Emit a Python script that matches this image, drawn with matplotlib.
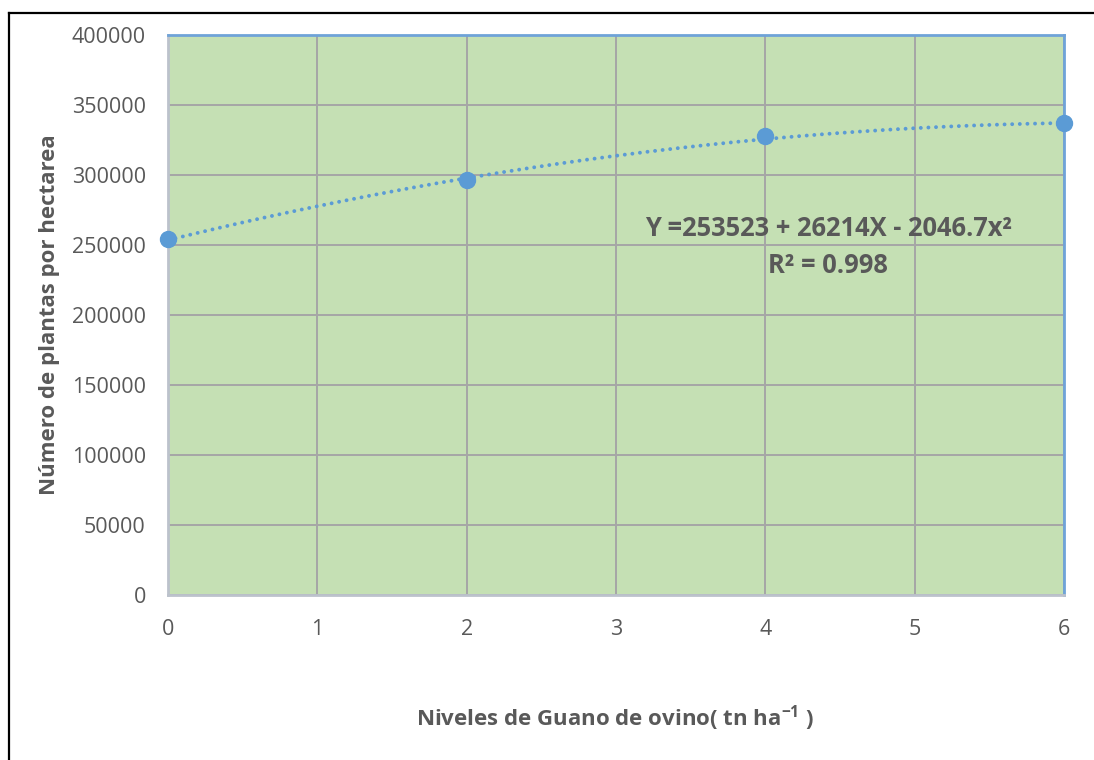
import numpy as np
import matplotlib
matplotlib.use("Agg")
import matplotlib.pyplot as plt
from matplotlib.lines import Line2D

plt.rcParams["font.family"] = ["Open Sans", "DejaVu Sans"]
plt.rcParams["mathtext.fontset"] = "custom"
plt.rcParams["mathtext.rm"] = "Open Sans"
plt.rcParams["mathtext.bf"] = "Open Sans:bold"
plt.rcParams["mathtext.default"] = "bf"

# Data
niveles = [0, 2, 4, 6]
plantas = [254000, 296500, 327500, 336800]
# quadratic trend: Y = a + b*X + c*X^2
coef_a, coef_b, coef_c = 253523, 26214, -2046.7
r2 = 0.998
y_ticks = [0, 50000, 100000, 150000, 200000, 250000, 300000, 350000, 400000]
x_ticks = [0, 1, 2, 3, 4, 5, 6]

txt = "#595959"
blue = "#5B9BD5"

fig = plt.figure(figsize=(10.94, 7.6), dpi=100)
ax = fig.add_axes([168 / 1094, 165 / 760, 896 / 1094, 560 / 760])
ax.set_facecolor("#C5E0B4")

xs = np.linspace(0, 6, 300)
ax.plot(xs, coef_a + coef_b * xs + coef_c * xs ** 2, color=blue, lw=2.8,
        linestyle=(0, (0.01, 1.95)), dash_capstyle="round", zorder=3)
ax.plot(niveles, plantas, "o", color=blue, ms=11.5, zorder=4, clip_on=False)

ax.set_xlim(0, 6)
ax.set_ylim(0, 400000)
ax.set_xticks(x_ticks)
ax.set_yticks(y_ticks)
ax.tick_params(length=0, labelsize=15.5, labelcolor=txt)
ax.tick_params(axis="x", pad=17)
ax.tick_params(axis="y", pad=16)
ax.grid(True, color="#A6A6A6", lw=1.4)
ax.set_axisbelow(True)

for side in ["top", "right"]:
    ax.spines[side].set_color("#6FA3D8")
    ax.spines[side].set_linewidth(2)
for side in ["left", "bottom"]:
    ax.spines[side].set_color("#BCC2CC")
    ax.spines[side].set_linewidth(2)

ax.text(4.42, 262000, f"Y ={coef_a} + {coef_b}X - {abs(coef_c)}x²",
        ha="center", va="center", fontsize=18.4, fontweight="bold", color=txt)
ax.text(4.42, 235000, f"R² = {r2}",
        ha="center", va="center", fontsize=18.4, fontweight="bold", color=txt)

ax.set_ylabel("Número de plantas por hectarea", fontsize=16, fontweight="bold",
              color=txt)
ax.yaxis.set_label_coords(-0.1205, 0.5)
fig.text(0.5617, 1 - 718 / 760, r"Niveles de Guano de ovino( tn ha$^{-1}$ )",
         ha="center", va="center", fontsize=16, fontweight="bold", color=txt)

# frame lines around the chart (top and left)
fig.add_artist(Line2D([9 / 1094, 1093 / 1094], [1 - 13 / 760, 1 - 13 / 760],
                      color="black", lw=1.6, transform=fig.transFigure))
fig.add_artist(Line2D([9 / 1094, 9 / 1094], [1 - 13 / 760, 0],
                      color="black", lw=1.6, transform=fig.transFigure))

fig.savefig("out.png", dpi=100)
